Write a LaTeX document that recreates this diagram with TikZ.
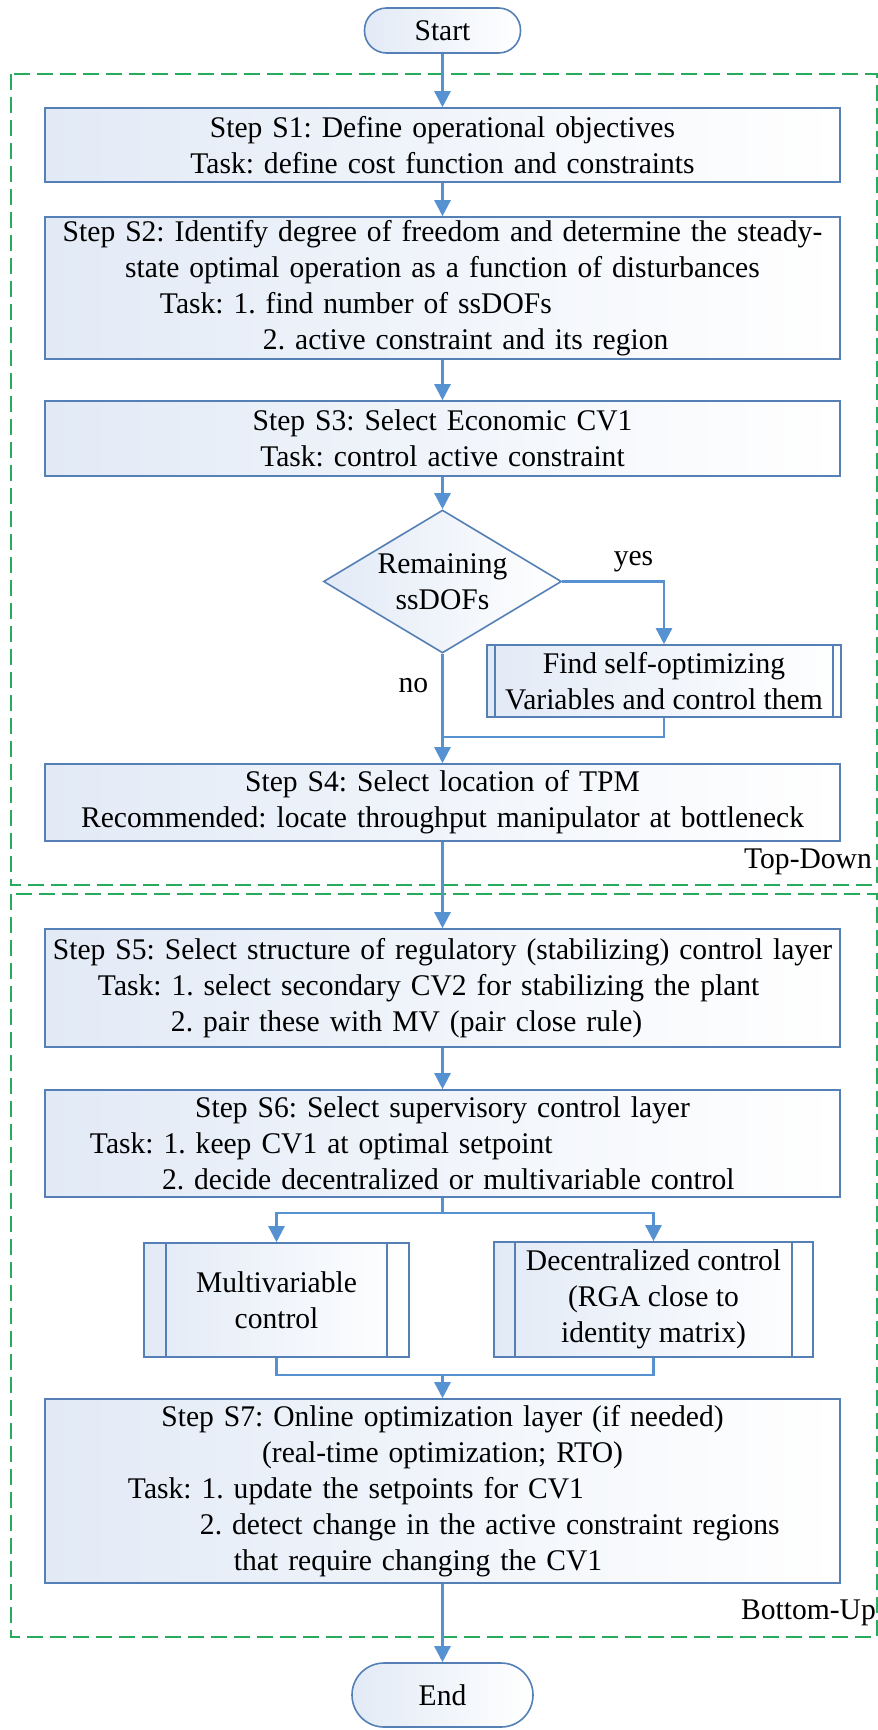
\documentclass[tikz,border=0pt]{standalone}
\usepackage{fontspec}
\setmainfont{Liberation Serif}[FakeStretch=0.985]
\usepackage{xcolor}
\usepackage{tikz}
\usetikzlibrary{
  shapes.geometric, arrows.meta, positioning, calc
}
\definecolor{flowblue}{RGB}{86,146,210}
\definecolor{boxline}{RGB}{84,128,182}
\definecolor{boxfill}{RGB}{226,234,246}
\definecolor{framegreen}{RGB}{38,172,92}
\tikzset{
  stepbox/.style={
    draw=boxline, line width=1.6pt, left color=boxfill, right color=white,
    align=center, inner xsep=0pt, inner ysep=0pt,
    text width=795pt, minimum height=#1
  },
  subproc/.style={
    draw=boxline, line width=1.6pt, left color=boxfill, right color=white,
    align=center, inner sep=0pt,
    path picture={
      \draw[boxline, line width=1.6pt]
        ([xshift=#1]path picture bounding box.north west) --
        ([xshift=#1]path picture bounding box.south west)
        ([xshift=-#1]path picture bounding box.north east) --
        ([xshift=-#1]path picture bounding box.south east);
    }
  },
  decision/.style={
    diamond, draw=boxline, line width=1.6pt, left color=boxfill, right color=white,
    align=center, inner sep=0pt, aspect=1.66,
    minimum width=238pt, minimum height=143pt
  },
  terminal/.style={
    draw=boxline, line width=1.6pt, left color=boxfill, right color=white,
    align=center, inner sep=0pt
  },
  groupframe/.style={
    draw=framegreen, line width=2.4pt, dash pattern=on 16pt off 7pt
  },
  flowline/.style={draw=flowblue, line width=2.5pt},
  flowarrow/.style={
    -{Triangle[length=16pt, width=16pt]}, draw=flowblue, line width=2.5pt
  },
  flowlabel/.style={inner sep=0pt},
}
\newcommand{\tline}[2]{\makebox[795pt][l]{\hspace*{#1}#2}}
\frenchspacing

\begin{document}
\begin{tikzpicture}[x=1pt, y=-1pt, font=\fontsize{30}{36}\selectfont]
  \useasboundingbox (0,0) rectangle (878,1730);

  % --- Group frames ---
  \draw[groupframe] (11,74) rectangle (877,885);
  \draw[groupframe] (11,894) rectangle (877,1637);
  \node[flowlabel, anchor=east] (topdown) at (872,862) {Top-Down};
  \node[flowlabel, anchor=east] (bottomup) at (876,1613) {Bottom-Up};

  % --- Start ---
  \node[terminal, minimum width=156pt, minimum height=45pt,
    rounded corners=22pt] (start) at (442.5,30.5) {Start};

  % --- Top-down steps ---
  \node[stepbox=74pt] (s1) at (442.5,145)
    {Step S1: Define operational objectives\\
    Task: define cost function and constraints};
  \node[stepbox=142pt] (s2) at (442.5,288)
    {Step S2: Identify degree of freedom and determine the steady-\\
    state optimal operation as a function of disturbances\\
    \tline{115pt}{Task: 1. find number of ssDOFs}\\
    \tline{218pt}{2. active constraint and its region}};
  \node[stepbox=75pt] (s3) at (442.5,438.5)
    {Step S3: Select Economic CV1\\
    Task: control active constraint};
  \node[decision] (dec) at (442.5,581.5) {Remaining\\ssDOFs};
  \node[subproc=8pt, minimum width=354pt, minimum height=72pt] (selfopt)
    at (664,681) {Find self-optimizing\\Variables and control them};
  \node[stepbox=77pt] (s4) at (442.5,802.5)
    {Step S4: Select location of TPM\\
    Recommended: locate throughput manipulator at bottleneck};

  % --- Bottom-up steps ---
  \node[stepbox=118pt] (s5) at (442.5,988)
    {Step S5: Select structure of regulatory (stabilizing) control layer\\
    \tline{53pt}{Task: 1. select secondary CV2 for stabilizing the plant}\\
    \tline{126pt}{2. pair these with MV (pair close rule)}};
  \node[stepbox=107pt] (s6) at (442.5,1143.5)
    {Step S6: Select supervisory control layer\\
    \tline{45pt}{Task: 1. keep CV1 at optimal setpoint}\\
    \tline{117pt}{2. decide decentralized or multivariable control}};
  \node[subproc=22pt, minimum width=265pt, minimum height=114pt] (multi)
    at (276.5,1300) {Multivariable\\control};
  \node[subproc=21pt, minimum width=319pt, minimum height=115pt] (decen)
    at (653.5,1299.5) {Decentralized control\\(RGA close to\\identity matrix)};
  \node[stepbox=184pt] (s7) at (442.5,1491)
    {Step S7: Online optimization layer (if needed)\\
    (real-time optimization; RTO)\\
    \tline{83pt}{Task: 1. update the setpoints for CV1}\\
    \tline{155pt}{2. detect change in the active constraint regions}\\
    \tline{189pt}{that require changing the CV1}};

  % --- End ---
  \node[terminal, minimum width=181pt, minimum height=64pt,
    rounded corners=32pt] (end) at (442.5,1695) {End};

  % --- Arrows: top-down ---
  \draw[flowarrow] (start.south) -- (s1.north);
  \draw[flowarrow] (s1.south) -- (s2.north);
  \draw[flowarrow] (s2.south) -- (s3.north);
  \draw[flowarrow] (s3.south) -- (dec.north);
  \draw[flowarrow] (dec.east) -| node[flowlabel, above=8pt, pos=0.35] {yes}
    (selfopt.north);
  \draw[flowarrow] (dec.south) -- node[flowlabel, left=13pt, pos=0.29] {no}
    (s4.north);
  \coordinate (join1) at (442.5,737);
  \draw[flowline] (selfopt.south) |- (join1);

  % --- Arrows: bottom-up ---
  \draw[flowarrow] (s4.south) -- (s5.north);
  \draw[flowarrow] (s5.south) -- (s6.north);
  \coordinate (split) at (442.5,1213);
  \draw[flowline] (s6.south) -- (split);
  \draw[flowarrow] (split) -| (multi.north);
  \draw[flowarrow] (split) -| (decen.north);
  \coordinate (join2) at (442.5,1375);
  \draw[flowline] (multi.south) |- (join2);
  \draw[flowline] (decen.south) |- (join2);
  \draw[flowarrow] (join2) -- (s7.north);
  \draw[flowarrow] (s7.south) -- (end.north);
\end{tikzpicture}
\end{document}
